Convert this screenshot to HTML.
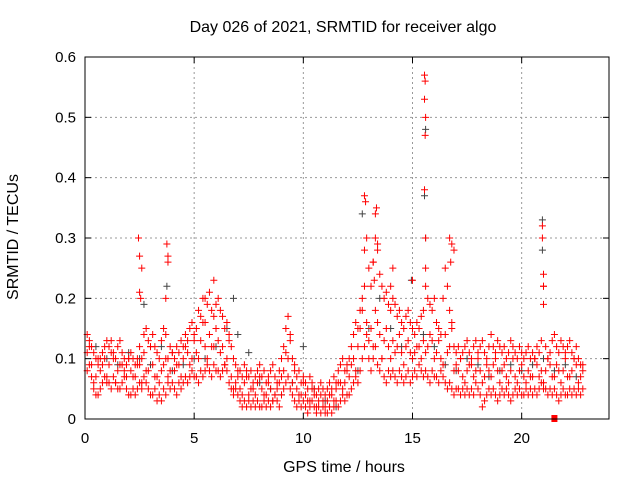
<!DOCTYPE html>
<html><head><meta charset="utf-8"><style>
body{margin:0;background:#fff;}
svg text{font-family:"Liberation Sans",sans-serif;fill:#000;}
</style></head><body>
<svg id="chart" width="640" height="480">
<rect width="640" height="480" fill="#fff"/>
<text x="343" y="32" font-size="16" text-anchor="middle">Day 026 of 2021, SRMTID for receiver algo</text>
<text x="344" y="472" font-size="16" text-anchor="middle">GPS time / hours</text>
<text transform="translate(18,237) rotate(-90)" font-size="16" text-anchor="middle">SRMTID / TECUs</text>
<g id="grid"></g><g id="ticks"></g><g id="marks"></g>
<rect x="85" y="57" width="524" height="362" fill="none" stroke="#000" stroke-width="1"/>
</svg>
<script>
const xTicks=[0,5,10,15,20];
const yTicks=[0,0.1,0.2,0.3,0.4,0.5,0.6];
const startHour=0.1, stepHour=0.1, midStep=0.2, mid2Start=0.2, greyStart=0.5, greyStep=0.5;
const redHi=[.14,.13,.12,.11,.10,.09,.10,.11,.12,.13,.12,.13,.11,.10,.12,.13,.11,.10,.09,.10,.11,.10,.09,.10,.12,.10,.14,.15,.13,.12,.14,.12,.11,.10,.13,.15,.14,.10,.12,.11,.10,.12,.11,.13,.12,.14,.13,.15,.16,.14,.15,.18,.17,.20,.16,.19,.21,.18,.17,.19,.20,.18,.17,.15,.16,.14,.12,.10,.09,.08,.08,.07,.09,.08,.07,.08,.06,.07,.08,.09,.07,.08,.06,.07,.08,.09,.07,.06,.08,.10,.12,.15,.17,.14,.10,.08,.07,.08,.06,.07,.06,.05,.07,.06,.05,.04,.05,.06,.05,.04,.05,.06,.05,.07,.06,.08,.09,.10,.08,.09,.10,.12,.14,.16,.15,.18,.20,.28,.30,.25,.22,.26,.30,.28,.24,.22,.20,.21,.19,.18,.20,.19,.17,.18,.16,.15,.17,.18,.16,.15,.14,.16,.15,.17,.18,.22,.20,.19,.18,.20,.16,.15,.14,.20,.25,.22,.18,.15,.12,.11,.12,.10,.11,.12,.13,.11,.10,.12,.13,.11,.12,.13,.11,.10,.12,.14,.12,.11,.13,.12,.11,.12,.10,.11,.13,.12,.11,.10,.12,.11,.10,.11,.12,.10,.11,.10,.12,.11,.13,.22,.12,.10,.11,.13,.14,.12,.11,.13,.12,.11,.12,.13,.11,.10,.12,.10,.09,.08];
const redLo=[.08,.09,.07,.05,.04,.04,.05,.06,.07,.06,.06,.05,.07,.06,.05,.05,.06,.07,.05,.04,.04,.05,.04,.05,.06,.05,.07,.06,.05,.04,.04,.05,.03,.04,.03,.05,.04,.06,.05,.06,.05,.04,.06,.05,.06,.07,.06,.07,.08,.07,.07,.06,.08,.07,.08,.09,.08,.07,.09,.08,.08,.07,.08,.09,.08,.06,.05,.04,.05,.04,.03,.02,.03,.02,.03,.02,.03,.02,.03,.02,.02,.03,.02,.03,.02,.03,.04,.03,.02,.04,.05,.06,.07,.05,.04,.03,.02,.03,.02,.03,.02,.01,.02,.03,.02,.01,.02,.01,.02,.01,.01,.02,.01,.02,.03,.02,.03,.04,.03,.04,.04,.05,.06,.07,.06,.08,.10,.12,.14,.10,.08,.10,.12,.09,.08,.10,.07,.06,.08,.07,.08,.07,.06,.08,.07,.06,.07,.08,.06,.07,.08,.07,.09,.08,.07,.08,.07,.06,.08,.07,.07,.06,.08,.07,.06,.05,.06,.05,.04,.05,.05,.04,.05,.04,.05,.04,.05,.04,.06,.05,.04,.02,.03,.04,.05,.04,.05,.04,.03,.04,.05,.04,.05,.04,.03,.04,.05,.04,.05,.04,.04,.05,.04,.05,.04,.05,.04,.05,.06,.05,.05,.04,.05,.04,.05,.04,.03,.04,.05,.04,.04,.05,.04,.05,.04,.05,.04,.05];
const redMid=[.11,.09,.07,.08,.10,.09,.10,.08,.09,.07,.08,.07,.09,.11,.08,.09,.07,.08,.10,.08,.08,.09,.10,.11,.10,.11,.13,.12,.14,.12,.13,.12,.10,.07,.06,.05,.06,.04,.05,.06,.05,.04,.05,.04,.06,.08,.10,.06,.05,.04,.04,.03,.04,.03,.03,.03,.04,.05,.06,.06,.07,.10,.12,.18,.16,.15,.18,.14,.13,.12,.13,.12,.11,.12,.11,.11,.12,.13,.12,.13,.11,.10,.14,.12,.08,.08,.07,.08,.09,.08,.08,.07,.08,.09,.08,.08,.07,.08,.07,.08,.07,.08,.07,.09,.08,.08,.09,.07,.08,.08,.07,.08,.09,.07];
const redMid2=[.12,.06,.10,.09,.07,.11,.06,.09,.08,.10,.07,.09,.06,.08,.12,.07,.06,.09,.07,.11,.09,.07,.12,.09,.13,.10,.16,.10,.12,.15,.11,.09,.13,.05,.07,.04,.07,.05,.04,.07,.04,.06,.03,.05,.07,.11,.13,.09,.04,.06,.03,.05,.02,.04,.02,.04,.03,.06,.05,.08,.09,.08,.15,.22,.13,.12,.16,.10,.15,.10,.11,.14,.09,.13,.10,.12,.10,.11,.14,.10,.13,.09,.11,.16,.09,.10,.06,.09,.07,.10,.06,.09,.07,.10,.06,.09,.06,.10,.06,.09,.06,.07,.10,.07,.06,.10,.07,.09,.06,.10,.07,.10,.06,.09];
const spikeHours=[2.45,2.5,2.5,2.55,2.6,3.75,3.8,3.8,3.7,12.8,12.85,13.2,13.3,13.35,13.4,13.25,15.55,15.58,15.55,15.6,15.58,15.55,15.6,15.6,16.7,16.8,16.75,16.9,20.95,20.95,21.0,21.0,21.0,14.1,14.0,15.0,5.9,5.5];
const spikeValues=[.30,.27,.21,.20,.25,.29,.27,.26,.20,.37,.36,.26,.34,.35,.29,.23,.57,.56,.53,.50,.47,.38,.30,.25,.30,.29,.26,.28,.32,.30,.24,.22,.19,.25,.22,.23,.23,.20];
const greyVals=[.12,.10,.09,.11,.10,.09,.12,.08,.09,.10,.10,.12,.15,.14,.11,.06,.05,.04,.06,.12,.05,.03,.02,.04,.08,.15,.20,.15,.12,.10,.14,.12,.09,.08,.10,.09,.07,.08,.09,.08,.09,.10,.08,.09,.07];
const greySpikeHours=[12.7,15.6,15.55,15.6,20.95,20.95,3.75,14.95,2.7,6.8];
const greySpikeValues=[.34,.48,.37,.30,.33,.28,.22,.23,.19,.20];
const squareHours=[21.5], squareValues=[0];

const X0=85,X1=609,Y0=419,Y1=57,XMAX=24,YMAX=0.6;
const xs=h=>X0+(X1-X0)*h/XMAX, ys=v=>Y0-(Y0-Y1)*v/YMAX;
const NS='http://www.w3.org/2000/svg';
function mk(tag,attrs,parent){const e=document.createElementNS(NS,tag);for(const k in attrs)e.setAttribute(k,attrs[k]);parent.appendChild(e);return e;}
const grid=document.getElementById('grid'),ticks=document.getElementById('ticks'),marks=document.getElementById('marks');
xTicks.forEach(t=>{const x=xs(t);
 if(t>0){const g=mk('line',{x1:x,x2:x,y1:Y1,y2:Y0,stroke:'#999','stroke-dasharray':'2,3'},grid);
 
 }
 mk('line',{x1:x,x2:x,y1:Y0,y2:Y0-6,stroke:'#000'},ticks);mk('line',{x1:x,x2:x,y1:Y1,y2:Y1+6,stroke:'#000'},ticks);
 const tx=mk('text',{x:x,y:Y0+24,'font-size':15,'text-anchor':'middle'},ticks);tx.textContent=t;
 
 });
yTicks.forEach(t=>{const y=ys(t);
 if(t>0&&t<0.6){const g=mk('line',{x1:X0,x2:X1,y1:y,y2:y,stroke:'#999','stroke-dasharray':'2,3'},grid);
 
 }
 mk('line',{x1:X0,x2:X0+6,y1:y,y2:y,stroke:'#000'},ticks);mk('line',{x1:X1,x2:X1-6,y1:y,y2:y,stroke:'#000'},ticks);
 const tx=mk('text',{x:X0-9,y:y+5,'font-size':15,'text-anchor':'end'},ticks);tx.textContent=(t===0?'0':t.toFixed(1));
 
 });
function plus(h,v,col,name){const x=xs(h),y=ys(v);
 const p=mk('path',{d:`M${x-3.5},${y}h7M${x},${y-3.5}v7`,stroke:col,'stroke-width':1,fill:'none'},marks);
 
 }
greyVals.forEach((v,i)=>plus(greyStart+i*greyStep,v,'#444','grey-point'));
greySpikeHours.forEach((h,i)=>plus(h,greySpikeValues[i],'#444','grey-point'));
redHi.forEach((v,i)=>plus(startHour+i*stepHour,v,'#f00','red-point'));
redLo.forEach((v,i)=>plus(startHour+i*stepHour,v,'#f00','red-point'));
redMid.forEach((v,i)=>plus(startHour+i*midStep,v,'#f00','red-point'));
redMid2.forEach((v,i)=>plus(mid2Start+i*midStep,v,'#f00','red-point'));
spikeHours.forEach((h,i)=>plus(h,spikeValues[i],'#f00','red-point'));
squareHours.forEach((h,i)=>{const r=mk('rect',{x:xs(h)-3,y:ys(squareValues[i])-4,width:6,height:7,fill:'#f00'},marks);
 
 });
</script>
</body></html>
